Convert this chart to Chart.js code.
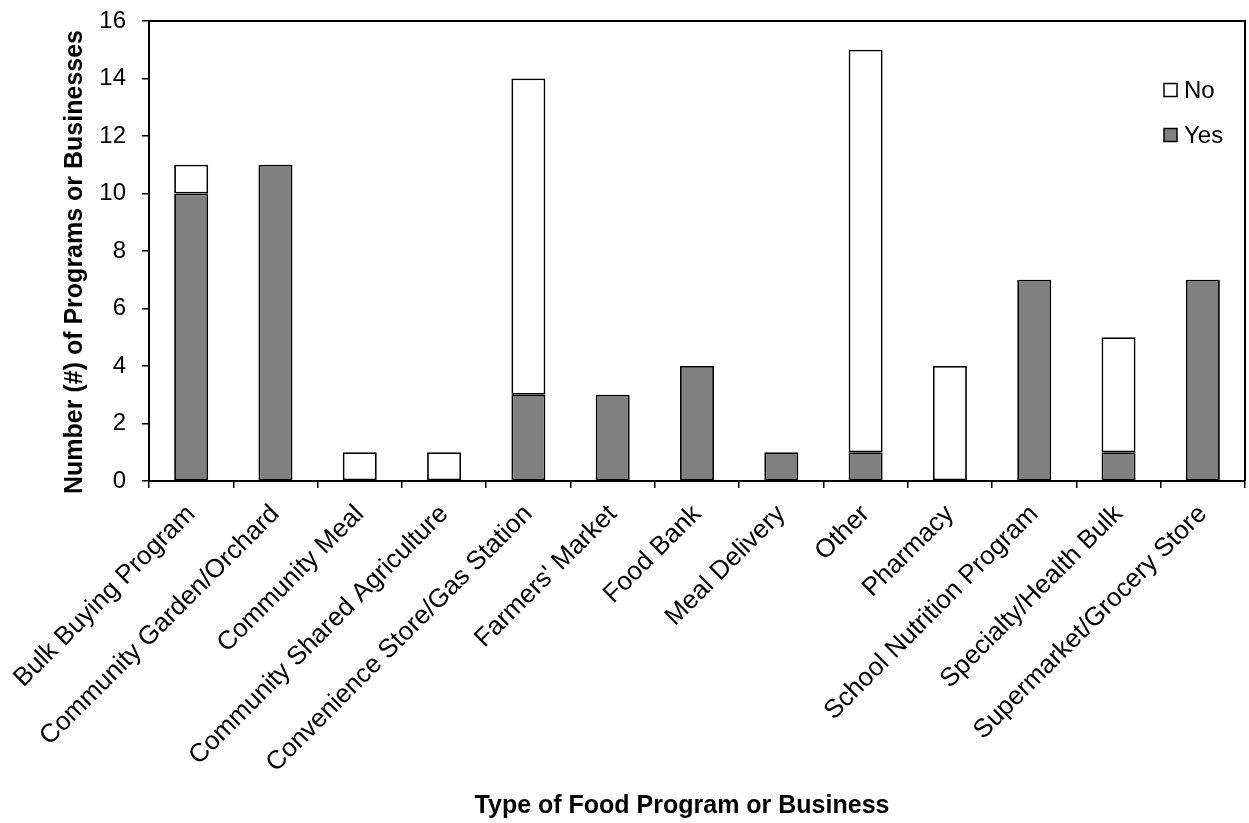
<!DOCTYPE html>
<html>
<head>
<meta charset="utf-8">
<script src="https://cdn.jsdelivr.net/npm/chart.js@4.4.1/dist/chart.umd.min.js"></script>
<style>
  html, body { margin: 0; padding: 0; background: #fff; }
  #wrap { width: 1249px; height: 823px; }
</style>
</head>
<body>
<div id="wrap"><canvas id="chart" width="1249" height="823"></canvas></div>
<script>
// Chart data
const categories = [
    'Bulk Buying Program', 'Community Garden/Orchard', 'Community Meal',
    'Community Shared Agriculture', 'Convenience Store/Gas Station', "Farmers' Market",
    'Food Bank', 'Meal Delivery', 'Other', 'Pharmacy', 'School Nutrition Program',
    'Specialty/Health Bulk', 'Supermarket/Grocery Store'
];
const yesCounts = [10, 11, 0, 0, 3, 3, 4, 1, 1, 0, 7, 1, 7];
const noCounts  = [1, 0, 1, 1, 11, 0, 0, 0, 14, 4, 0, 4, 0];
const yTicks = [0, 2, 4, 6, 8, 10, 12, 14, 16];
const yTitle = 'Number (#) of Programs or Businesses';
const xTitle = 'Type of Food Program or Business';

const FONT = "Arial, 'Liberation Sans', Helvetica, sans-serif";

// Draws the plot frame, the legend and the two axis titles
const decorations = {
    id: 'decorations',
    afterDraw(chart) {
        const { ctx, chartArea } = chart;
        ctx.save();
        ctx.strokeStyle = '#000';
        ctx.lineWidth = 2;
        ctx.beginPath();
        ctx.moveTo(chartArea.left, chartArea.top);
        ctx.lineTo(chartArea.right, chartArea.top);
        ctx.lineTo(chartArea.right, chartArea.bottom);
        ctx.stroke();

        // legend, No on top
        const items = [chart.data.datasets[1], chart.data.datasets[0]];
        ctx.font = '24px ' + FONT;
        ctx.textBaseline = 'middle';
        items.forEach((ds, i) => {
            const cy = chartArea.top + 69 + i * 45;
            const bx = chartArea.right - 81;
            ctx.fillStyle = ds.backgroundColor;
            ctx.fillRect(bx, cy - 6.5, 13, 13);
            ctx.lineWidth = 1.5;
            ctx.strokeStyle = '#000';
            ctx.strokeRect(bx, cy - 6.5, 13, 13);
            ctx.fillStyle = '#000';
            ctx.fillText(ds.label, bx + 20, cy + 1);
        });

        // axis titles
        ctx.font = 'bold 25px ' + FONT;
        ctx.fillStyle = '#000';
        ctx.textAlign = 'center';
        ctx.textBaseline = 'alphabetic';
        ctx.fillText(xTitle, 682, 813);
        ctx.translate(82, 262);
        ctx.rotate(-Math.PI / 2);
        ctx.fillText(yTitle, 0, 0);
        ctx.restore();
    }
};

new Chart(document.getElementById('chart').getContext('2d'), {
    type: 'bar',
    data: {
        labels: categories,
        datasets: [
            {
                label: 'Yes',
                data: yesCounts,
                backgroundColor: '#808080',
                borderColor: '#000',
                borderWidth: 1.8,
                borderSkipped: false,
                categoryPercentage: 1,
                barPercentage: 0.403
            },
            {
                label: 'No',
                data: noCounts,
                backgroundColor: '#ffffff',
                borderColor: '#000',
                borderWidth: 1.8,
                borderSkipped: false,
                categoryPercentage: 1,
                barPercentage: 0.403
            }
        ]
    },
    options: {
        responsive: false,
        animation: false,
        layout: { padding: { top: 21, right: 4, left: 0, bottom: 0 } },
        plugins: { legend: { display: false }, tooltip: { enabled: false } },
        scales: {
            x: {
                stacked: true,
                grid: { display: true, drawOnChartArea: false, drawTicks: true, tickLength: 7, color: '#000', lineWidth: 1.5 },
                border: { color: '#000', width: 2 },
                ticks: {
                    color: '#000',
                    font: { family: FONT, size: 26 },
                    maxRotation: 45,
                    minRotation: 45,
                    autoSkip: false,
                    padding: 11
                },
                afterFit(scale) {
                    scale.height = 823 - 481;
                    scale.paddingLeft = 0;
                    scale.paddingRight = 0;
                }
            },
            y: {
                stacked: true,
                min: 0,
                max: 16,
                afterBuildTicks(scale) { scale.ticks = yTicks.map(v => ({ value: v })); },
                grid: { display: true, drawOnChartArea: false, drawTicks: true, tickLength: 7, color: '#000', lineWidth: 1.5 },
                border: { color: '#000', width: 2 },
                ticks: {
                    color: '#000',
                    font: { family: FONT, size: 24 },
                    padding: 16
                },
                afterFit(scale) {
                    scale.width = 149;
                    scale.paddingTop = 0;
                    scale.paddingBottom = 0;
                }
            }
        }
    },
    plugins: [decorations]
});
</script>
</body>
</html>
